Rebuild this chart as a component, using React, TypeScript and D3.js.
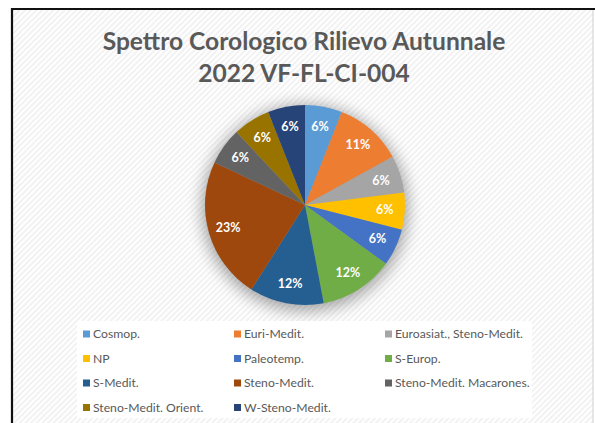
import React, { useRef, useEffect } from 'react';
import * as d3 from 'd3';

const categories = [
  'Cosmop.',
  'Euri-Medit.',
  'Euroasiat., Steno-Medit.',
  'NP',
  'Paleotemp.',
  'S-Europ.',
  'S-Medit.',
  'Steno-Medit.',
  'Steno-Medit. Macarones.',
  'Steno-Medit. Orient.',
  'W-Steno-Medit.',
];
const values = [6, 11, 6, 6, 6, 12, 12, 23, 6, 6, 6];
const colors = [
  '#5B9BD5', '#ED7D31', '#A5A5A5', '#FFC000', '#4472C4', '#70AD47',
  '#255E91', '#9E480E', '#636363', '#997300', '#264478',
];
const titleLines = ['Spettro Corologico Rilievo Autunnale', '2022 VF-FL-CI-004'];

const W = 595;
const H = 423;

const App = () => {
  const svgRef = useRef<SVGSVGElement>(null);

  useEffect(() => {
    const svg = d3.select(svgRef.current);
    svg.selectAll('*').remove();

    const defs = svg.append('defs');
    const pat = defs.append('pattern')
      .attr('id', 'hatch')
      .attr('width', 4).attr('height', 4)
      .attr('patternUnits', 'userSpaceOnUse')
      .attr('patternTransform', 'rotate(45)');
    pat.append('rect').attr('width', 4).attr('height', 4).attr('fill', '#ffffff');
    pat.append('rect').attr('width', 2).attr('height', 4).attr('fill', '#f2f2f2');

    const blur = defs.append('filter').attr('id', 'shadow')
      .attr('x', '-30%').attr('y', '-30%').attr('width', '160%').attr('height', '160%');
    blur.append('feGaussianBlur').attr('stdDeviation', 8);

    // chart area
    svg.append('rect').attr('width', W).attr('height', H).attr('fill', '#fff');
    svg.append('rect')
      .attr('x', 12).attr('y', 9)
      .attr('width', 581).attr('height', H)
      .attr('fill', 'url(#hatch)')
      .attr('stroke', '#d0d0d0').attr('stroke-width', 1);
    svg.append('path')
      .attr('d', `M12,${H} V9 H${W}`)
      .attr('fill', 'none')
      .attr('stroke', '#111').attr('stroke-width', 2.2);

    // title
    svg.append('text')
      .attr('x', 304).attr('y', 50)
      .attr('text-anchor', 'middle')
      .attr('font-family', 'Lato, sans-serif')
      .attr('font-weight', 'bold')
      .attr('font-size', 24.6)
      .attr('fill', '#595959')
      .selectAll('tspan')
      .data(titleLines)
      .enter()
      .append('tspan')
      .attr('x', 304)
      .attr('dy', (d, i) => (i === 0 ? 0 : 32))
      .text(d => d);

    // pie
    const cx = 305;
    const cy = 205;
    const r = 100;
    const pie = d3.pie<number>().sort(null).value(d => d);
    const arcs = pie(values);
    const arc = d3.arc<d3.PieArcDatum<number>>().innerRadius(0).outerRadius(r);
    const labelArc = d3.arc<d3.PieArcDatum<number>>().innerRadius(r * 0.8).outerRadius(r * 0.8);
    const total = d3.sum(values);

    const g = svg.append('g').attr('transform', `translate(${cx},${cy})`);
    g.append('circle')
      .attr('cx', 0).attr('cy', 3).attr('r', r + 3)
      .attr('fill', '#000').attr('opacity', 0.35)
      .attr('filter', 'url(#shadow)');

    g.selectAll('path.slice')
      .data(arcs)
      .enter()
      .append('path')
      .attr('class', 'slice')
      .attr('d', arc)
      .attr('fill', (d, i) => colors[i]);

    g.selectAll('text.lbl')
      .data(arcs)
      .enter()
      .append('text')
      .attr('class', 'lbl')
      .attr('transform', d => `translate(${labelArc.centroid(d)})`)
      .attr('text-anchor', 'middle')
      .attr('dy', '0.35em')
      .attr('font-family', 'Lato, sans-serif')
      .attr('font-weight', 'bold')
      .attr('font-size', 12.5)
      .attr('fill', '#fff')
      .text(d => `${Math.round((d.value / total) * 100)}%`);

    // legend
    svg.append('rect')
      .attr('x', 77).attr('y', 321)
      .attr('width', 455).attr('height', 97)
      .attr('fill', '#fff');

    const colX = [83, 234, 385];
    const rowY = [334, 358.5, 383, 407.5];
    const leg = svg.append('g')
      .selectAll('g')
      .data(categories)
      .enter()
      .append('g')
      .attr('transform', (d, i) => `translate(${colX[i % 3]},${rowY[Math.floor(i / 3)]})`);
    leg.append('rect')
      .attr('x', 0).attr('y', -3.5)
      .attr('width', 7).attr('height', 7)
      .attr('fill', (d, i) => colors[i]);
    leg.append('text')
      .attr('x', 10).attr('dy', '0.35em')
      .attr('font-family', 'Lato, sans-serif')
      .attr('font-size', 12.2)
      .attr('fill', '#595959')
      .text(d => d);
  }, []);

  return (
    <div style={{ position: 'absolute', left: 0, top: 0 }}>
      <svg ref={svgRef} width={W} height={H} style={{ display: 'block' }} />
    </div>
  );
};

export default App;
